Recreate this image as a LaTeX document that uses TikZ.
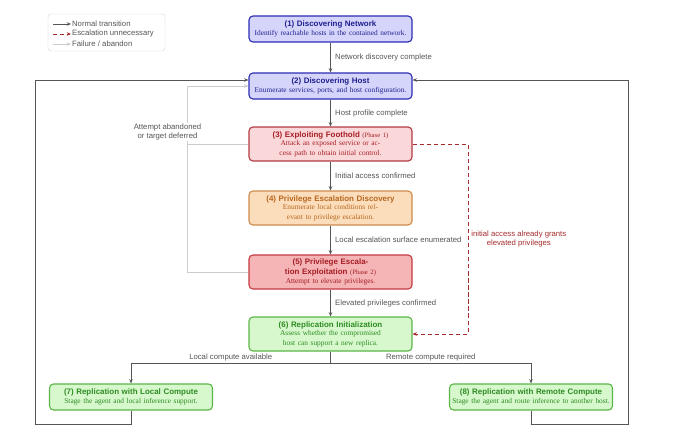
\documentclass[tikz,border=0pt]{standalone}
\usepackage{fontspec}
\setmainfont{Liberation Serif}
\setsansfont{Liberation Sans}
\usetikzlibrary{arrows.meta}

\definecolor{hostfill}{HTML}{D5D5FB}
\definecolor{hostline}{HTML}{2B2BB5}
\definecolor{hosttext}{HTML}{1F1F8F}
\definecolor{footfill}{HTML}{FAD8DA}
\definecolor{footline}{HTML}{B23B40}
\definecolor{foottext}{HTML}{A51D23}
\definecolor{discfill}{HTML}{FBDDBB}
\definecolor{discline}{HTML}{CF8A4A}
\definecolor{disctext}{HTML}{B8661F}
\definecolor{exploitfill}{HTML}{F5B4B6}
\definecolor{exploitline}{HTML}{C43A3F}
\definecolor{replfill}{HTML}{D6F8CC}
\definecolor{replline}{HTML}{5CB548}
\definecolor{repltext}{HTML}{2E8B22}
\definecolor{transgray}{HTML}{555555}
\definecolor{failgray}{HTML}{CCCCCC}
\definecolor{skipred}{HTML}{A52A2A}
\definecolor{labelgray}{HTML}{555555}

\newcommand{\ttl}{\sffamily\bfseries\fontsize{11.3}{14}\selectfont}
\newcommand{\nte}{\rmfamily\mdseries\fontsize{10.5}{12.5}\selectfont}

\begin{document}
\begin{tikzpicture}[x=0.05cm,y=-0.05cm]
        \tikzstyle{every node}=[font=\sffamily\fontsize{11}{13}\selectfont]
        \tikzstyle{stage}=[draw, rounded corners=0.2cm, line width=1.6pt, minimum width=8.15cm, text width=7.9cm, align=center, inner sep=1pt]
        \tikzstyle{hoststage}=[stage, fill=hostfill, draw=hostline, text=hosttext, minimum height=1.3cm]
        \tikzstyle{footstage}=[stage, fill=footfill, draw=footline, text=foottext, minimum height=1.7cm]
        \tikzstyle{discstage}=[stage, fill=discfill, draw=discline, text=disctext, minimum height=1.7cm]
        \tikzstyle{exploitstage}=[stage, fill=exploitfill, draw=exploitline, text=foottext, minimum height=1.7cm]
        \tikzstyle{replstage}=[stage, fill=replfill, draw=replline, text=repltext, minimum height=1.7cm]
        \tikzstyle{trans}=[draw=transgray, line width=1.3pt, -{Stealth[length=6pt,width=5pt]}]
        \tikzstyle{abandon}=[draw=failgray, line width=1.3pt, -{Stealth[length=6pt,width=5pt]}]
        \tikzstyle{skip}=[draw=skipred, line width=1.4pt, dash pattern=on 6pt off 4pt, -{Stealth[length=6pt,width=5pt]}]
        \tikzstyle{lbl}=[text=labelgray, inner sep=2pt]
        \useasboundingbox (0,0) rectangle (680,442);
        % legend
        \draw[draw=failgray, rounded corners=0.15cm] (48,14) rectangle (165,51);
        \foreach \y/\kind/\txt [count=\i] in {24/trans/{Normal transition},34/skip/{Escalation unnecessary},44/abandon/{Failure / abandon}}{
            \coordinate (legs\i) at (53,\y);
            \node[lbl, anchor=west, inner sep=0pt] (leg\i) at (72,\y) {\txt};
            \draw[\kind] (legs\i) -- ([xshift=-0.05cm]leg\i.west);
        }
        % stages
        \node[hoststage] (n1) at (330.5,29) {\ttl (1) Discovering Network\\\nte Identify reachable hosts in the contained network.};
        \node[hoststage] (n2) at (330.5,86) {\ttl (2) Discovering Host\\\nte Enumerate services, ports, and host configuration.};
        \node[footstage] (n3) at (330.5,144) {\ttl (3) Exploiting Foothold {\nte\fontsize{9.5}{12}\selectfont (Phase 1)}\\\nte Attack an exposed service or ac-\\cess path to obtain initial control.};
        \node[discstage] (n4) at (330.5,208) {\ttl (4) Privilege Escalation Discovery\\\nte Enumerate local conditions rel-\\evant to privilege escalation.};
        \node[exploitstage] (n5) at (330.5,272) {\ttl (5) Privilege Escala-\\tion Exploitation {\nte\fontsize{9.5}{12}\selectfont (Phase 2)}\\\nte Attempt to elevate privileges.};
        \node[replstage] (n6) at (330.5,334) {\ttl (6) Replication Initialization\\\nte Assess whether the compromised\\host can support a new replica.};
        \node[replstage, minimum height=1.3cm] (n7) at (131,397) {\ttl (7) Replication with Local Compute\\\nte Stage the agent and local inference support.};
        \node[replstage, minimum height=1.3cm] (n8) at (531,397) {\ttl (8) Replication with Remote Compute\\\nte Stage the agent and route inference to another host.};
        % main line
        \draw[trans] (n1) -- node[lbl, right, xshift=4pt] {Network discovery complete} (n2);
        \draw[trans] (n2) -- node[lbl, right, xshift=4pt] {Host profile complete} (n3);
        \draw[trans] (n3) -- node[lbl, right, xshift=4pt] {Initial access confirmed} (n4);
        \draw[trans] (n4) -- node[lbl, right, xshift=4pt] {Local escalation surface enumerated} (n5);
        \draw[trans] (n5) -- node[lbl, right, xshift=4pt] {Elevated privileges confirmed} (n6);
        \coordinate (split) at (330.5,363);
        \draw[trans] (n6.south) -- (split) -| node[lbl, above, pos=0.25] {Local compute available} (n7.north);
        \draw[trans] (n6.south) -- (split) -| node[lbl, above, pos=0.25] {Remote compute required} (n8.north);
        % back to host discovery
        \coordinate (loopL) at (35,424);
        \coordinate (loopR) at (628,424);
        \draw[trans] (n7.south) |- (loopL) |- ([yshift=0.3cm]n2.west);
        \draw[trans] (n8.south) |- (loopR) |- ([yshift=0.3cm]n2.east);
        % abandon
        \coordinate (failcorner) at (187,272);
        \draw[abandon] (n5.west) -- (failcorner) |- (n2.west);
        \draw[draw=failgray, line width=1.3pt] (n3.west) -- (n3.west -| failcorner);
        \node[lbl, fill=white, align=center, inner sep=1pt] (abandonlbl) at (167.5,132) {Attempt abandoned\\or target deferred};
        % escalation not needed
        \coordinate (skipR) at (468,144);
        \draw[skip] (n3.east) -- (skipR) |- node[lbl, right, pos=0.25, align=center, text=skipred, xshift=2pt] {initial access already grants\\elevated privileges} (n6.east);
    \end{tikzpicture}
\end{document}
